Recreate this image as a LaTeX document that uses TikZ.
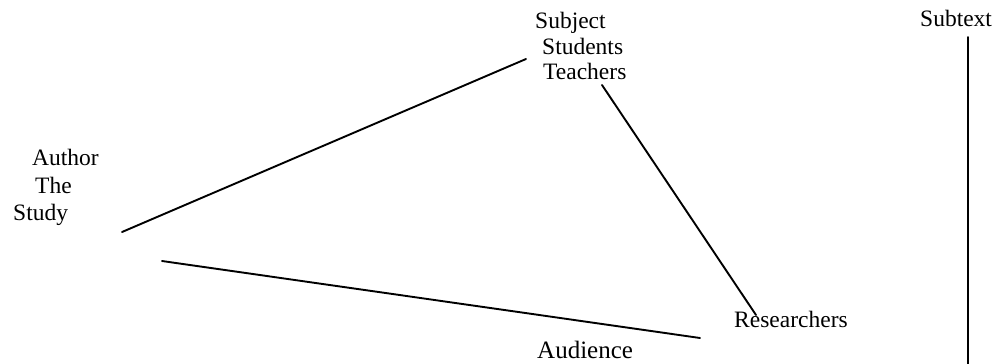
\documentclass[tikz,border=0pt]{standalone}
\usepackage{fontspec}
\setmainfont{Liberation Serif}
\begin{document}
\begin{tikzpicture}[x=1pt,y=-1pt,
  lbl/.style={anchor=base west,inner sep=0pt,font=\fontsize{23.5}{26}\selectfont},
  big/.style={lbl,font=\fontsize{25}{30}\selectfont},
  link/.style={line width=1.9pt,line cap=round}]
\useasboundingbox (0,0) rectangle (999,364);

% labels
\node[lbl] (subject)  at (535,28) {Subject};
\node[lbl] (students) at (542,54) {Students};
\node[lbl] (teachers) at (543,79) {Teachers};
\node[lbl] (author)   at (32,165) {Author};
\node[lbl] (the)      at (35,193) {The};
\node[lbl] (study)    at (13,220) {Study};
\node[lbl] (research) at (734,327) {Researchers};
\node[big] (audience) at (537,358) {Audience};
\node[lbl] (subtext)  at (920,27) {Subtext};

% line end points
\coordinate (s1) at (526,59);
\coordinate (a1) at (122,232);
\coordinate (t1) at (602,85);
\coordinate (r1) at (756,315);
\coordinate (a2) at (162,261);
\coordinate (u1) at (700,338);
\coordinate (v1) at (968,37);
\coordinate (v2) at (968,364);

% connectors
\draw[link] (s1) -- (a1);
\draw[link] (t1) -- (r1);
\draw[link] (a2) -- (u1);
\draw[link] (v1) -- (v2);
\end{tikzpicture}
\end{document}
